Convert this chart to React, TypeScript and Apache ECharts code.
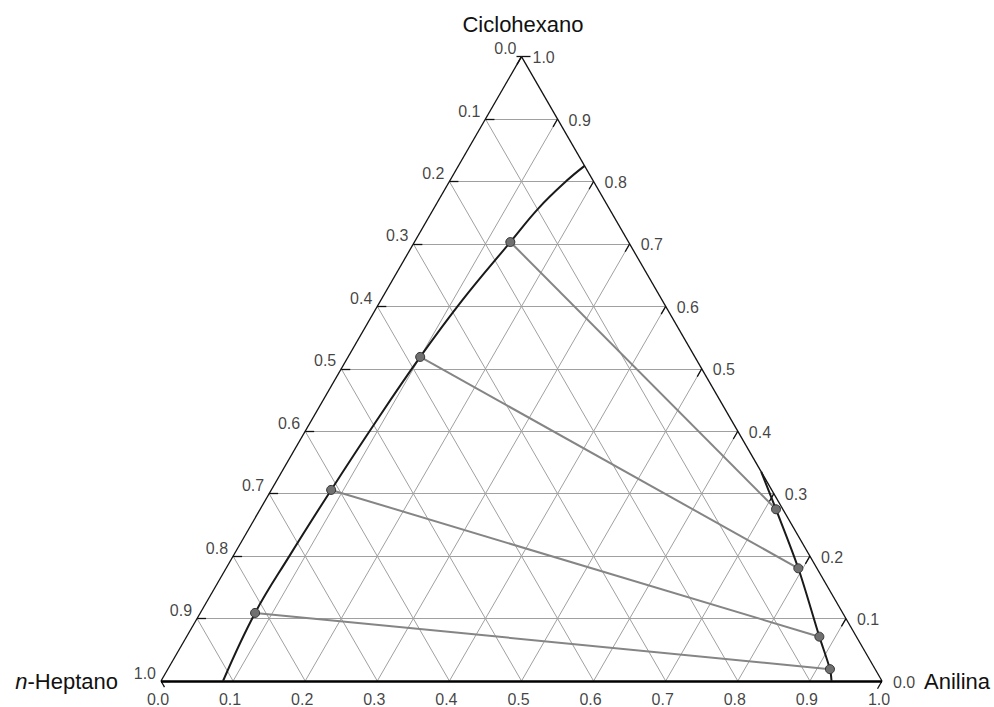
import React, { useEffect, useRef } from "react";
import * as echarts from "echarts";

// Ternary composition data: [Anilina fraction, Ciclohexano fraction]
const binodalLeft: [number, number][] = [
  [0.086, 0.0], [0.076, 0.109], [0.078, 0.2], [0.083, 0.306], [0.09, 0.41],
  [0.100, 0.519], [0.113, 0.61], [0.133, 0.703], [0.145, 0.757], [0.162, 0.801], [0.175, 0.825],
];
const binodalRight: [number, number][] = [
  [0.665, 0.335], [0.7155, 0.275], [0.7937, 0.1805], [0.8776, 0.071], [0.9183, 0.019], [0.930, 0.0],
];
const tieLeft: [number, number][] = [[0.133, 0.703], [0.100, 0.519], [0.083, 0.306], [0.076, 0.109]];
const tieRight: [number, number][] = [[0.7155, 0.275], [0.7937, 0.1805], [0.8776, 0.071], [0.9183, 0.019]];
const ticks = [0, 0.1, 0.2, 0.3, 0.4, 0.5, 0.6, 0.7, 0.8, 0.9, 1.0];
const tickLabels = ticks.map((t) => t.toFixed(1));
const vertexNames = { top: "Ciclohexano", left: "n-Heptano", right: "Anilina" };

const SQ = Math.sqrt(3) / 2;
const toXY = (a: number, c: number): [number, number] => [a + c / 2, c * SQ];

const PX = 721; // px per unit
const FONT = "'Liberation Sans', Arial, sans-serif";

export default function App() {
  const ref = useRef<HTMLDivElement>(null);
  useEffect(() => {
    if (!ref.current) return;
    const chart = echarts.init(ref.current, undefined, { renderer: "svg" });

    const grid: any[] = [];
    for (let i = 1; i < 10; i++) {
      const t = i / 10;
      grid.push({ coords: [toXY(0, t), toXY(1 - t, t)] });
      grid.push({ coords: [toXY(t, 0), toXY(t, 1 - t)] });
      grid.push({ coords: [toXY(1 - t, 0), toXY(0, 1 - t)] });
    }
    const edges = [
      { coords: [toXY(0, 0), toXY(0, 1)] },
      { coords: [toXY(0, 1), toXY(1, 0)] },
    ];
    const bottomEdge = [{ coords: [toXY(0, 0), toXY(1, 0)] }];
    const d = 9 / PX;
    const stubs: any[] = [];
    ticks.forEach((t) => {
      const p = toXY(0, 1 - t);
      stubs.push({ coords: [p, [p[0] + d, p[1]]] });
      const q = toXY(1 - t, t);
      stubs.push({ coords: [q, [q[0] - d * 0.5, q[1] - d * SQ]] });
    });
    const bl = toXY(0, 0);
    stubs.push({ coords: [bl, [bl[0] + 0.5 * 7 / PX, bl[1] - SQ * 7 / PX]] });
    const topV = toXY(0, 1);
    stubs.push({ coords: [[topV[0] - 5 / PX, topV[1]], topV] });

    const tieData = tieLeft.map((l, i) => ({ coords: [toXY(l[0], l[1]), toXY(tieRight[i][0], tieRight[i][1])] }));
    const pts = [...tieLeft, ...tieRight].map((p) => toXY(p[0], p[1]));

    const leftLabels = ticks.map((t, i) => [...toXY(0, 1 - t), tickLabels[i]]);
    const rightLabels = ticks.map((t, i) => [...toXY(1 - t, t), tickLabels[i]]);
    const bottomLabels = ticks.map((t, i) => [...toXY(t, 0), tickLabels[i]]);

    const labelBase = { show: true, fontFamily: FONT, fontSize: 16, color: "#111", formatter: (p: any) => p.value[2] };

    chart.setOption({
      animation: false,
      grid: { left: 0, right: 0, top: 0, bottom: 0 },
      xAxis: { type: "value", min: -161 / PX, max: 1 + 112 / PX, show: false },
      yAxis: { type: "value", min: -26 / PX, max: 681 / PX, show: false },
      series: [
        { type: "lines", coordinateSystem: "cartesian2d", data: grid, silent: true, z: 1,
          lineStyle: { color: "#a0a0a0", width: 1, opacity: 1 } },
        { type: "lines", coordinateSystem: "cartesian2d", data: edges, silent: true, z: 2,
          lineStyle: { color: "#111", width: 1.3, opacity: 1 } },
        { type: "lines", coordinateSystem: "cartesian2d", data: stubs, silent: true, z: 2,
          lineStyle: { color: "#111", width: 1.3, opacity: 1 } },
        { type: "lines", coordinateSystem: "cartesian2d", data: bottomEdge, silent: true, z: 2,
          lineStyle: { color: "#000", width: 2.5, opacity: 1 } },
        { type: "lines", coordinateSystem: "cartesian2d", data: tieData, silent: true, z: 3,
          lineStyle: { color: "#858585", width: 2, opacity: 1 } },
        { type: "line", data: binodalLeft.map((p) => toXY(p[0], p[1])), smooth: 0.4, symbol: "none", z: 4,
          lineStyle: { color: "#1a1a1a", width: 2 } },
        { type: "line", data: binodalRight.map((p) => toXY(p[0], p[1])), smooth: 0.3, symbol: "none", z: 4,
          lineStyle: { color: "#1a1a1a", width: 2 } },
        { type: "scatter", data: pts, symbolSize: 9, z: 5,
          itemStyle: { color: "#707070", borderColor: "#333", borderWidth: 1, opacity: 1 } },
        { type: "scatter", data: leftLabels, symbolSize: 0, z: 6,
          label: { ...labelBase, position: "left", distance: 5, offset: [0, -8] } },
        { type: "scatter", data: rightLabels, symbolSize: 0, z: 6,
          label: { ...labelBase, position: "right", distance: 11, offset: [0, 1] } },
        { type: "scatter", data: bottomLabels, symbolSize: 0, z: 6,
          label: { ...labelBase, position: "bottom", distance: 10, offset: [-3, 0] } },
      ],
      graphic: [
        { type: "text", x: 523, y: 24, style: { text: vertexNames.top, fontFamily: FONT, fontSize: 22, fill: "#111", align: "center", verticalAlign: "middle" } },
        { type: "text", x: 118, y: 681, style: {
            text: "{i|n}-Heptano", fontFamily: FONT, fontSize: 22, fill: "#111", align: "right", verticalAlign: "middle",
            rich: { i: { fontStyle: "italic", fontFamily: FONT, fontSize: 22, fill: "#111" } } } },
        { type: "text", x: 924, y: 681, style: { text: vertexNames.right, fontFamily: FONT, fontSize: 22, fill: "#111", align: "left", verticalAlign: "middle" } },
      ],
    });
    return () => chart.dispose();
  }, []);
  return <div ref={ref} style={{ position: "fixed", left: 0, top: 0, width: 994, height: 707, background: "#fff" }} />;
}
